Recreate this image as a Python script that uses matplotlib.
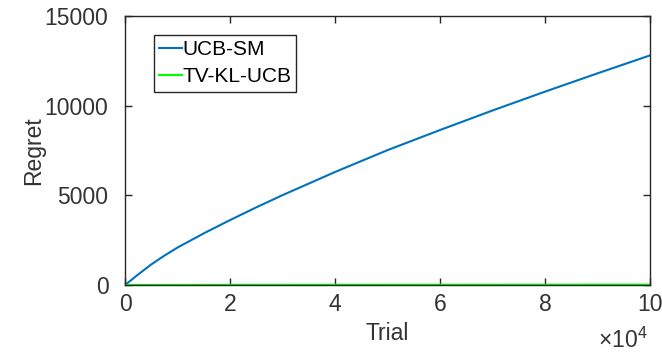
import numpy as np
import matplotlib
matplotlib.use('Agg')
import matplotlib.pyplot as plt
from matplotlib.ticker import FuncFormatter

plt.rcParams['font.family'] = ['Liberation Sans', 'DejaVu Sans']
plt.rcParams['mathtext.fontset'] = 'custom'
plt.rcParams['mathtext.rm'] = 'Liberation Sans'

# values
trial = [0, 2500, 5000, 7500, 10000, 15000, 20000, 25000, 30000, 40000,
         50000, 60000, 70000, 80000, 90000, 100000]
ucb_sm = [0, 590, 1150, 1640, 2090, 2880, 3620, 4330, 5010, 6300,
          7520, 8640, 9730, 10780, 11800, 12800]
tv_kl_ucb = [0, 2, 3, 4, 5, 7, 8, 9, 10, 12, 13, 14, 15, 16, 17, 18]

fig = plt.figure(figsize=(6.62, 3.54), dpi=100)
ax = fig.add_axes([0.189, 0.195, 0.793, 0.76])

ax.plot(trial, ucb_sm, color=(0, 0.447, 0.741), lw=1.5, label='UCB-SM')
ax.plot(trial, tv_kl_ucb, color=(0, 1, 0), lw=1.5, label='TV-KL-UCB')

ax.set_xlim(0, 100000)
ax.set_ylim(0, 15000)
ax.set_xticks([0, 20000, 40000, 60000, 80000, 100000])
ax.set_yticks([0, 5000, 10000, 15000])
ax.xaxis.set_major_formatter(FuncFormatter(lambda v, p: '%d' % round(v / 1e4)))

grey = '#262626'
for s in ax.spines.values():
    s.set_color(grey)
    s.set_linewidth(1.0)
ax.tick_params(direction='in', length=5, width=1.0, colors=grey,
               labelsize=16.5, top=True, right=True)
ax.tick_params(axis='y', pad=12)
ax.tick_params(axis='x', pad=6)
for lab in ax.get_xticklabels() + ax.get_yticklabels():
    lab.set_color('#333333')

ax.set_xlabel('Trial', fontsize=16.5, color='#333333', labelpad=4)
ax.set_ylabel('Regret', fontsize=16.5, color='#333333', labelpad=0)
fig.text(0.978, 0.018, r'$\times10^{4}$', ha='right', va='baseline',
         fontsize=16.5, color='#333333')

leg = ax.legend(loc='upper left', bbox_to_anchor=(0.055, 0.93), fontsize=15,
                handlelength=1.1, handletextpad=0.0, borderpad=0.25,
                labelspacing=0.4, fancybox=False, framealpha=1,
                borderaxespad=0)
leg.get_frame().set_edgecolor(grey)
leg.get_frame().set_linewidth(1.0)

fig.savefig('out.png', dpi=100)
